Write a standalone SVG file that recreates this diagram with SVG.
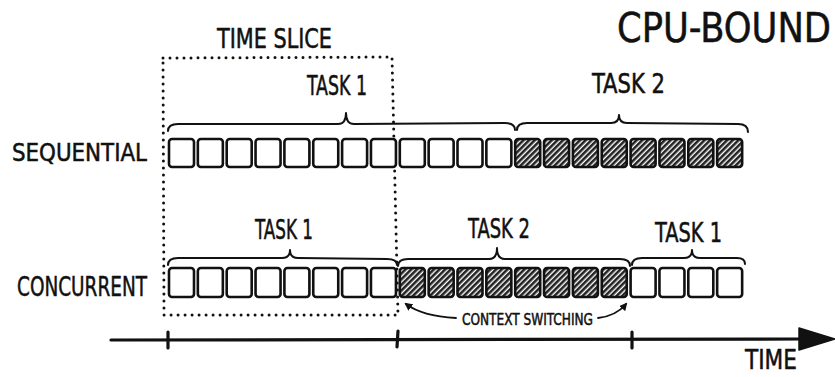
<svg xmlns="http://www.w3.org/2000/svg" width="835" height="377" viewBox="0 0 835 377">
<style>
.t{font-family:"DejaVu Sans Condensed","DejaVu Sans",sans-serif;fill:#111;stroke:#111;stroke-width:0.5;}
.w{fill:#fff;stroke:#111;stroke-width:2.6;}
.h{fill:url(#hatch);stroke:#111;stroke-width:2.6;}
.br{fill:none;stroke:#111;stroke-width:2;stroke-linecap:round;stroke-linejoin:round;}
.dot{fill:none;stroke:#111;stroke-width:3;stroke-linecap:round;stroke-dasharray:0 7;}
.ax{fill:none;stroke:#111;stroke-width:3.2;stroke-linecap:round;}
.ar{fill:none;stroke:#111;stroke-width:1.8;stroke-linecap:round;}
</style>
<defs>
<pattern id="hatch" width="4" height="4" patternUnits="userSpaceOnUse" patternTransform="rotate(45)">
<rect width="4" height="4" fill="#fff"/>
<rect width="2.6" height="4" fill="#222"/>
</pattern>
<marker id="ah" markerWidth="8" markerHeight="8" refX="6" refY="4" orient="auto" markerUnits="userSpaceOnUse">
<path d="M0,0 L8,4 L0,8 Z" fill="#111"/>
</marker>
</defs>
<rect width="835" height="377" fill="#fff"/>

<g id="title"><text class="t" x="617" y="42" font-size="40" textLength="214" lengthAdjust="spacingAndGlyphs">CPU-BOUND</text></g>

<g id="time-slice">
<path class="dot" d="M163,58 L392,57 L398,315 L164,315 Z"/>
<text class="t" x="217" y="48" font-size="27" textLength="115" lengthAdjust="spacingAndGlyphs">TIME SLICE</text>
</g>

<g id="sequential-label"><text class="t" x="12" y="161" font-size="25" textLength="135" lengthAdjust="spacingAndGlyphs">SEQUENTIAL</text></g>
<g id="concurrent-label"><text class="t" x="17" y="296" font-size="27" textLength="130" lengthAdjust="spacingAndGlyphs">CONCURRENT</text></g>

<g id="sequential-task1">
<path class="br" d="M168,131 Q168,124 178,124 L338,124 Q346,124 346,113 Q346,124 354,124 L505,123 Q515,123 515,130"/>
<text class="t" x="307" y="95" font-size="27" textLength="60" lengthAdjust="spacingAndGlyphs">TASK 1</text>
<rect class="w" x="169" y="139" width="25" height="28" rx="3"/>
<rect class="w" x="197.85" y="139" width="25" height="28" rx="3"/>
<rect class="w" x="226.7" y="139" width="25" height="28" rx="3"/>
<rect class="w" x="255.55" y="139" width="25" height="28" rx="3"/>
<rect class="w" x="284.4" y="139" width="25" height="28" rx="3"/>
<rect class="w" x="313.25" y="139" width="25" height="28" rx="3"/>
<rect class="w" x="342.1" y="139" width="25" height="28" rx="3"/>
<rect class="w" x="370.95" y="139" width="25" height="28" rx="3"/>
<rect class="w" x="399.8" y="139" width="25" height="28" rx="3"/>
<rect class="w" x="428.65" y="139" width="25" height="28" rx="3"/>
<rect class="w" x="457.5" y="139" width="25" height="28" rx="3"/>
<rect class="w" x="486.35" y="139" width="25" height="28" rx="3"/>
</g>

<g id="sequential-task2">
<path class="br" d="M517,130 Q517,123 527,123 L611,123 Q619,123 619,115 Q619,123 627,123 L738,124 Q748,124 748,132"/>
<text class="t" x="592" y="93" font-size="27" textLength="73" lengthAdjust="spacingAndGlyphs">TASK 2</text>
<rect class="h" x="515.2" y="139" width="25" height="28" rx="3"/>
<rect class="h" x="544.05" y="139" width="25" height="28" rx="3"/>
<rect class="h" x="572.9" y="139" width="25" height="28" rx="3"/>
<rect class="h" x="601.75" y="139" width="25" height="28" rx="3"/>
<rect class="h" x="630.6" y="139" width="25" height="28" rx="3"/>
<rect class="h" x="659.45" y="139" width="25" height="28" rx="3"/>
<rect class="h" x="688.3" y="139" width="25" height="28" rx="3"/>
<rect class="h" x="717.15" y="139" width="25" height="28" rx="3"/>
</g>

<g id="concurrent-task1">
<path class="br" d="M168,265 Q168,258 178,258 L282,258 Q290,258 290,250 Q290,258 298,258 L387,259 Q397,259 397,265"/>
<text class="t" x="255" y="239" font-size="27" textLength="58" lengthAdjust="spacingAndGlyphs">TASK 1</text>
<rect class="w" x="169" y="268" width="25" height="29" rx="3"/>
<rect class="w" x="197.85" y="268" width="25" height="29" rx="3"/>
<rect class="w" x="226.7" y="268" width="25" height="29" rx="3"/>
<rect class="w" x="255.55" y="268" width="25" height="29" rx="3"/>
<rect class="w" x="284.4" y="268" width="25" height="29" rx="3"/>
<rect class="w" x="313.25" y="268" width="25" height="29" rx="3"/>
<rect class="w" x="342.1" y="268" width="25" height="29" rx="3"/>
<rect class="w" x="370.95" y="268" width="25" height="29" rx="3"/>
</g>

<g id="concurrent-task2">
<path class="br" d="M398,266 Q398,259 408,259 L489,259 Q497,259 497,248 Q497,259 505,259 L620,259 Q630,259 630,266"/>
<text class="t" x="468" y="238" font-size="27" textLength="62" lengthAdjust="spacingAndGlyphs">TASK 2</text>
<rect class="h" x="399.8" y="268" width="25" height="29" rx="3"/>
<rect class="h" x="428.65" y="268" width="25" height="29" rx="3"/>
<rect class="h" x="457.5" y="268" width="25" height="29" rx="3"/>
<rect class="h" x="486.35" y="268" width="25" height="29" rx="3"/>
<rect class="h" x="515.2" y="268" width="25" height="29" rx="3"/>
<rect class="h" x="544.05" y="268" width="25" height="29" rx="3"/>
<rect class="h" x="572.9" y="268" width="25" height="29" rx="3"/>
<rect class="h" x="601.75" y="268" width="25" height="29" rx="3"/>
</g>

<g id="concurrent-task1b">
<path class="br" d="M632,265 Q632,258 642,258 L684,258 Q692,258 692,250 Q692,258 700,258 L737,258 Q745,258 745,264"/>
<text class="t" x="655" y="242" font-size="27" textLength="67" lengthAdjust="spacingAndGlyphs">TASK 1</text>
<rect class="w" x="630.6" y="268" width="25" height="29" rx="3"/>
<rect class="w" x="659.45" y="268" width="25" height="29" rx="3"/>
<rect class="w" x="688.3" y="268" width="25" height="29" rx="3"/>
<rect class="w" x="717.15" y="268" width="25" height="29" rx="3"/>
</g>

<g id="context-switching">
<text class="t" x="462" y="325" font-size="16" textLength="131" lengthAdjust="spacingAndGlyphs">CONTEXT SWITCHING</text>
</g>

<g id="time-label"><text class="t" x="745" y="369" font-size="27" textLength="52" lengthAdjust="spacingAndGlyphs">TIME</text></g>

<g id="connectors">
<path class="ar" d="M456,318 Q422,316 406,304" marker-end="url(#ah)"/>
<path class="ar" d="M598,318 Q616,316 626,304" marker-end="url(#ah)"/>
<path class="ax" d="M111,340 L802,339"/>
<polygon points="799,328 835,339 799,350" fill="#111" stroke="#111" stroke-width="1.5" stroke-linejoin="round"/>
<path class="ax" d="M168,332 L168,348 M398,331 L397,347 M632,332 L632,348"/>
</g>
</svg>
